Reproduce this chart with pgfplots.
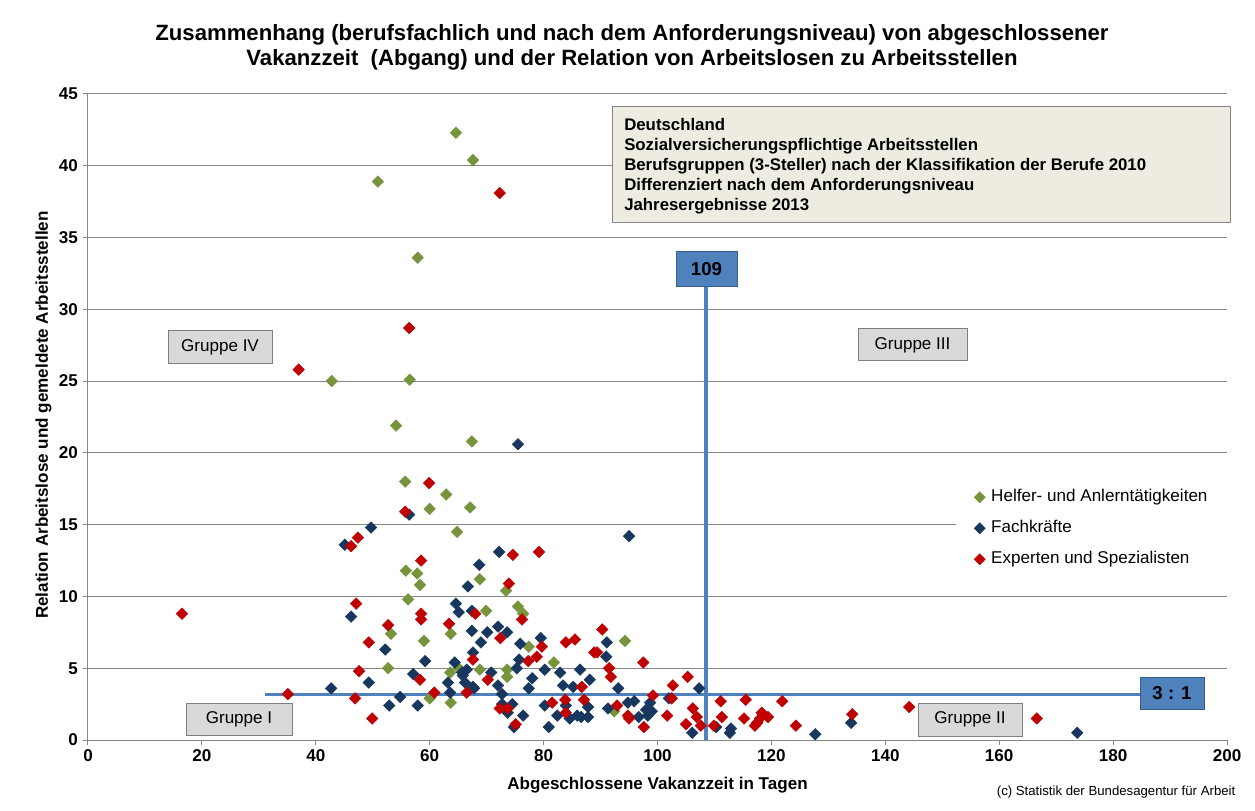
\documentclass[border=0pt]{standalone}
\usepackage{fontspec}
\setmainfont{Liberation Sans}
\usepackage{pgfplots}
\pgfplotsset{compat=1.18}
\definecolor{cgreen}{HTML}{77933C}
\definecolor{cnavy}{HTML}{17375E}
\definecolor{cred}{HTML}{C00000}
\definecolor{cline}{HTML}{4F81BD}
\definecolor{cboxb}{HTML}{385D8A}
\definecolor{cgrid}{HTML}{868686}
\definecolor{cbeige}{HTML}{EEECE1}
\definecolor{cgbox}{HTML}{D9D9D9}
\definecolor{cgboxb}{HTML}{7F7F7F}
\begin{document}
\begin{tikzpicture}
\path[use as bounding box] (-66pt,-52.5pt) rectangle (875.25pt,555pt);
\begin{axis}[
  at={(0,0)}, anchor=south west,
  scale only axis, width=854.25pt, height=484.5pt,
  xmin=0, xmax=200, ymin=0, ymax=45,
  xtick={0,20,...,200}, ytick={0,5,...,45},
  axis x line*=bottom, axis y line*=left,
  axis line style={draw=cgrid, line width=0.75pt, -},
  ymajorgrids, grid style={draw=cgrid, line width=0.75pt},
  tick style={draw=cgrid, line width=0.75pt},
  major tick length=4pt,
  xtick align=outside, ytick align=outside,
  /pgf/number format/assume math mode=true,
  ticklabel style={font=\bfseries\fontsize{12.8}{14}\selectfont},
  xlabel={Abgeschlossene Vakanzzeit in Tagen},
  ylabel={Relation Arbeitslose und gemeldete Arbeitsstellen},
  xlabel style={font=\bfseries\fontsize{12.8}{14}\selectfont, at={(axis description cs:0.5,-0.0697)}, anchor=center},
  ylabel style={font=\bfseries\fontsize{12.8}{14}\selectfont, at={(axis description cs:-0.0390,0.503)}, anchor=center, rotate=0},
  clip=false,
  legend style={at={(axis cs:152.3,17.97)}, anchor=north west, draw=none, fill=white,
    inner xsep=14pt, inner ysep=3pt, row sep=6.75pt, column sep=2.5pt,
    font=\fontsize{12.8}{14}\selectfont,
    nodes={text height=9.5pt, text depth=3pt, inner sep=2pt}},
  legend cell align=left,
  legend image code/.code={\draw[#1, mark size=2.9pt] plot coordinates {(0pt,0pt)};},
]
\addplot[cline, line width=2.5pt, forget plot] coordinates {(108.5,0) (108.5,31.55)};
\addplot[cline, line width=2.5pt, forget plot] coordinates {(31.1,3.18) (184.7,3.18)};

\addplot[only marks, mark=square*, mark size=3.05pt, color=cgreen, mark options={rotate=45}] table {
x y
64.6 42.3
67.6 40.4
50.9 38.9
57.9 33.6
42.8 25.0
56.5 25.1
54.1 21.9
67.4 20.8
55.7 18.0
62.9 17.1
60.0 16.1
67.1 16.2
64.8 14.5
55.8 11.8
57.8 11.6
68.8 11.2
58.3 10.8
73.4 10.4
56.2 9.8
69.9 9.0
75.5 9.3
76.4 8.8
53.2 7.4
59.0 6.9
63.7 7.4
77.4 6.5
52.7 5.0
63.6 4.7
65.1 5.0
68.8 4.9
73.6 4.9
73.6 4.4
81.8 5.4
60.0 2.9
63.7 2.6
94.3 6.9
92.4 2.0
};
\addlegendentry{Helfer- und Anlerntätigkeiten}

\addplot[only marks, mark=square*, mark size=3.05pt, color=cnavy, mark options={rotate=45}] table {
x y
75.5 20.6
56.4 15.7
49.7 14.8
45.1 13.6
72.2 13.1
95.0 14.2
68.7 12.2
66.7 10.7
46.2 8.6
64.6 9.5
65.1 8.9
67.4 9.0
52.2 6.3
42.7 3.6
49.3 4.0
52.9 2.4
54.8 3.0
57.9 2.4
57.1 4.6
59.2 5.5
67.4 7.6
70.1 7.5
69.0 6.8
67.6 6.1
64.4 5.4
66.5 4.9
65.8 4.5
65.7 4.7
66.2 4.0
67.6 3.7
67.8 3.6
63.2 4.0
63.6 3.3
70.8 4.7
72.0 3.8
72.7 3.2
72.0 7.9
73.6 7.5
75.9 6.7
79.5 7.1
75.7 5.6
75.3 5.0
80.2 4.9
78.0 4.3
77.4 3.6
82.9 4.7
83.4 3.8
85.2 3.7
83.9 2.4
82.4 1.7
80.9 0.9
80.2 2.4
84.6 1.5
85.9 1.7
72.7 2.5
74.5 2.5
73.7 1.9
76.4 1.7
74.8 0.9
91.1 6.8
91.0 5.8
93.1 3.6
86.4 4.9
88.1 4.2
87.8 2.3
86.6 1.6
87.8 1.6
91.3 2.2
94.8 2.6
95.9 2.7
96.7 1.6
98.0 2.1
98.3 1.7
99.0 2.0
98.7 2.6
102.0 2.9
107.3 3.6
106.1 0.5
110.3 0.9
112.9 0.8
112.7 0.5
127.7 0.4
134.0 1.2
173.7 0.5
};
\addlegendentry{Fachkräfte}

\addplot[only marks, mark=square*, mark size=3.05pt, color=cred, mark options={rotate=45}] table {
x y
72.3 38.1
56.4 28.7
37.0 25.8
59.9 17.9
55.7 15.9
47.4 14.1
46.2 13.5
74.6 12.9
79.2 13.1
58.5 12.5
73.9 10.9
47.1 9.5
68.0 8.8
76.2 8.4
58.5 8.8
58.5 8.4
16.5 8.8
52.7 8.0
49.3 6.8
47.6 4.8
35.1 3.2
46.9 2.9
49.9 1.5
58.3 4.2
63.4 8.1
67.6 5.6
60.8 3.3
66.5 3.3
70.2 4.2
72.4 7.1
79.7 6.5
77.3 5.5
78.8 5.8
83.9 6.8
85.5 7.0
83.8 2.8
83.9 1.9
81.5 2.6
72.3 2.2
73.7 2.2
75.1 1.1
90.3 7.7
88.9 6.1
89.4 6.1
91.5 5.0
91.8 4.4
97.5 5.4
86.7 3.7
87.1 2.8
92.9 2.4
94.8 1.7
95.0 1.5
97.6 0.9
99.2 3.1
101.7 1.7
102.7 3.8
105.3 4.4
102.5 2.9
106.2 2.2
106.9 1.6
105.0 1.1
107.6 1.0
109.9 1.0
111.1 2.7
111.3 1.6
115.5 2.8
115.2 1.5
118.3 1.9
118.0 1.5
119.4 1.6
117.1 1.0
117.5 1.2
121.9 2.7
124.3 1.0
134.2 1.8
144.2 2.3
166.6 1.5
};
\addlegendentry{Experten und Spezialisten}
\end{axis}
\begin{scope}[x=0.75pt, y=-0.75pt, shift={(-66pt,555pt)}]
\node[align=center, font=\bfseries\fontsize{16.6}{18.75}\selectfont] at (632,47.5)
  {Zusammenhang (berufsfachlich und nach dem Anforderungsniveau) von abgeschlossener\\
   Vakanzzeit\ \ (Abgang) und der Relation von Arbeitslosen zu Arbeitsstellen};
\filldraw[fill=cbeige, draw=cgrid, line width=0.75pt] (612,107) rectangle (1230,223);
\node[anchor=north west, align=left, inner sep=0pt, font=\bfseries\fontsize{12.6}{15}\selectfont] at (624,118)
  {Deutschland\\
   Sozialversicherungspflichtige Arbeitsstellen\\
   Berufsgruppen (3-Steller) nach der Klassifikation der Berufe 2010\\
   Differenziert nach dem Anforderungsniveau\\
   Jahresergebnisse 2013};
\filldraw[fill=cline, draw=cboxb, line width=0.75pt] (676,252) rectangle (737,287);
\node[font=\bfseries\fontsize{14}{16}\selectfont] at (706.5,269.5) {109};
\filldraw[fill=cline, draw=cboxb, line width=0.75pt] (1140,677) rectangle (1204,709);
\node[font=\bfseries\fontsize{14}{16}\selectfont] at (1172,693) {3 : 1};
\filldraw[fill=cgbox, draw=cgboxb, line width=0.75pt] (168,331) rectangle (272,364);
\node[font=\fontsize{12.8}{14}\selectfont] at (220,347.5) {Gruppe IV};
\filldraw[fill=cgbox, draw=cgboxb, line width=0.75pt] (858,329) rectangle (967,361);
\node[font=\fontsize{12.8}{14}\selectfont] at (912.5,345) {Gruppe III};
\filldraw[fill=cgbox, draw=cgboxb, line width=0.75pt] (186,703) rectangle (292,735);
\node[font=\fontsize{12.8}{14}\selectfont] at (239,719) {Gruppe I};
\filldraw[fill=cgbox, draw=cgboxb, line width=0.75pt] (918,703) rectangle (1022,736);
\node[font=\fontsize{12.8}{14}\selectfont] at (970,719.5) {Gruppe II};
\node[anchor=east, font=\fontsize{9.9}{12}\selectfont] at (1240,792) {(c) Statistik der Bundesagentur für Arbeit};
\end{scope}
\end{tikzpicture}
\end{document}
